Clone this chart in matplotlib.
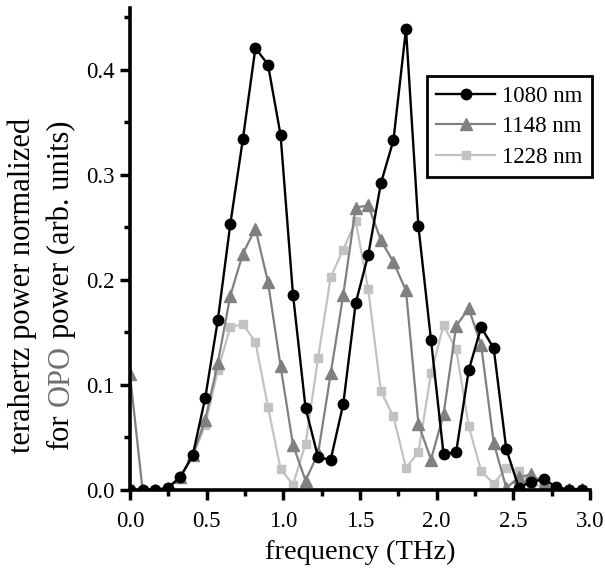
import matplotlib
matplotlib.use("Agg")
import matplotlib.pyplot as plt
from matplotlib.transforms import IdentityTransform

freq = [0.000, 0.082, 0.164, 0.245, 0.327, 0.409, 0.491, 0.573, 0.654, 0.736,
        0.818, 0.900, 0.982, 1.063, 1.145, 1.227, 1.309, 1.391, 1.472, 1.554,
        1.636, 1.718, 1.800, 1.881, 1.963, 2.045, 2.127, 2.209, 2.290, 2.372,
        2.454, 2.536, 2.618, 2.699, 2.781, 2.863, 2.945]

p1080 = [0.000, 0.000, 0.000, 0.002, 0.012, 0.033, 0.088, 0.162, 0.253, 0.334,
         0.421, 0.405, 0.338, 0.186, 0.078, 0.031, 0.029, 0.082, 0.178, 0.224,
         0.292, 0.333, 0.439, 0.251, 0.143, 0.034, 0.036, 0.114, 0.155, 0.135,
         0.039, 0.002, 0.008, 0.010, 0.003, 0.000, 0.000]

p1148 = [0.110, 0.000, 0.000, 0.002, 0.012, 0.033, 0.067, 0.121, 0.185, 0.225,
         0.249, 0.198, 0.118, 0.043, 0.009, 0.035, 0.111, 0.186, 0.269, 0.271,
         0.238, 0.217, 0.190, 0.063, 0.029, 0.072, 0.156, 0.173, 0.138, 0.045,
         0.002, 0.012, 0.015, 0.006, 0.001, 0.001, 0.001]

p1228 = [0.002, 0.000, 0.000, 0.002, 0.012, 0.032, 0.062, 0.114, 0.155, 0.158,
         0.141, 0.079, 0.020, 0.005, 0.044, 0.126, 0.203, 0.229, 0.256, 0.191,
         0.094, 0.070, 0.021, 0.036, 0.111, 0.157, 0.134, 0.061, 0.018, 0.006,
         0.021, 0.018, 0.006, 0.003, 0.002, 0.001, 0.001]

labels = ["1080 nm", "1148 nm", "1228 nm"]
xticks = [0.0, 0.5, 1.0, 1.5, 2.0, 2.5, 3.0]
yticks = [0.0, 0.1, 0.2, 0.3, 0.4]

plt.rcParams['font.family'] = ['Liberation Serif', 'DejaVu Serif']

W, H = 605, 574
fig = plt.figure(figsize=(W / 100, H / 100), dpi=100)
ax = fig.add_axes([130 / W, 1 - 490 / H, 460 / W, (490 - 8) / H])

ax.plot(freq, p1080, '-o', color='black', lw=1.7, ms=7.5, label=labels[0], zorder=3)
ax.plot(freq, p1148, '-^', color='#808080', lw=1.6, ms=8, label=labels[1], zorder=2)
ax.plot(freq, p1228, '-s', color='#c2c2c2', lw=1.6, ms=6.3, label=labels[2], zorder=1)

ax.set_xlim(0, 3.0)
ax.set_ylim(0, 0.459)
ax.set_xticks(xticks)
ax.set_xticklabels([f"{v:.1f}" for v in xticks])
ax.set_yticks(yticks)
ax.set_yticklabels([f"{v:.1f}" for v in yticks])
ax.set_xticks([0.25, 0.75, 1.25, 1.75, 2.25, 2.75], minor=True)
ax.set_yticks([0.05, 0.15, 0.25, 0.35, 0.45], minor=True)
ax.tick_params(which='major', direction='out', length=7, width=2.5, labelsize=16.5)
ax.tick_params(axis='x', which='major', pad=8)
ax.tick_params(axis='y', which='major', pad=4)
ax.tick_params(which='minor', direction='out', length=4, width=2.5)
for s in ['top', 'right']:
    ax.spines[s].set_visible(False)
for s in ['left', 'bottom']:
    ax.spines[s].set_linewidth(2.6)
ax.patch.set_visible(False)

ax.set_xlabel("frequency (THz)", fontsize=20.5, labelpad=6)

leg = ax.legend(loc='upper right', bbox_to_anchor=(1.004, 0.858), fontsize=16.5,
                frameon=True, fancybox=False, edgecolor='black', framealpha=1,
                handlelength=2.6, handletextpad=0.3, borderpad=0.4, labelspacing=0.42,
                borderaxespad=0)
leg.get_frame().set_linewidth(2.0)

# y label: two lines, "OPO" in gray
fs = 22
cy = H - 285
line1 = fig.text(22, cy, "terahertz power normalized", fontsize=fs, rotation=90,
                 rotation_mode='anchor', ha='center', va='center', transform=IdentityTransform())
parts = [("for", 'black'), ("OPO", '#6e6e6e'), ("power (arb. units)", 'black')]
texts = [fig.text(0, 0, t, fontsize=fs, rotation=0, color=c, transform=IdentityTransform())
         for t, c in parts]
probe_a = fig.text(0, 0, "a a", fontsize=fs, transform=IdentityTransform())
probe_b = fig.text(0, 0, "aa", fontsize=fs, transform=IdentityTransform())
fig.canvas.draw()
r = fig.canvas.get_renderer()
sp = probe_a.get_window_extent(r).width - probe_b.get_window_extent(r).width
widths = [t.get_window_extent(r).width for t in texts]
probe_a.remove()
probe_b.remove()
total = sum(widths) + 2 * sp
y = cy - total / 2
for t, w in zip(texts, widths):
    t.set_rotation(90)
    t.set_rotation_mode('anchor')
    t.set_ha('left')
    t.set_va('center')
    t.set_position((61, y))
    y += w + sp

fig.savefig("out.png", dpi=100)
